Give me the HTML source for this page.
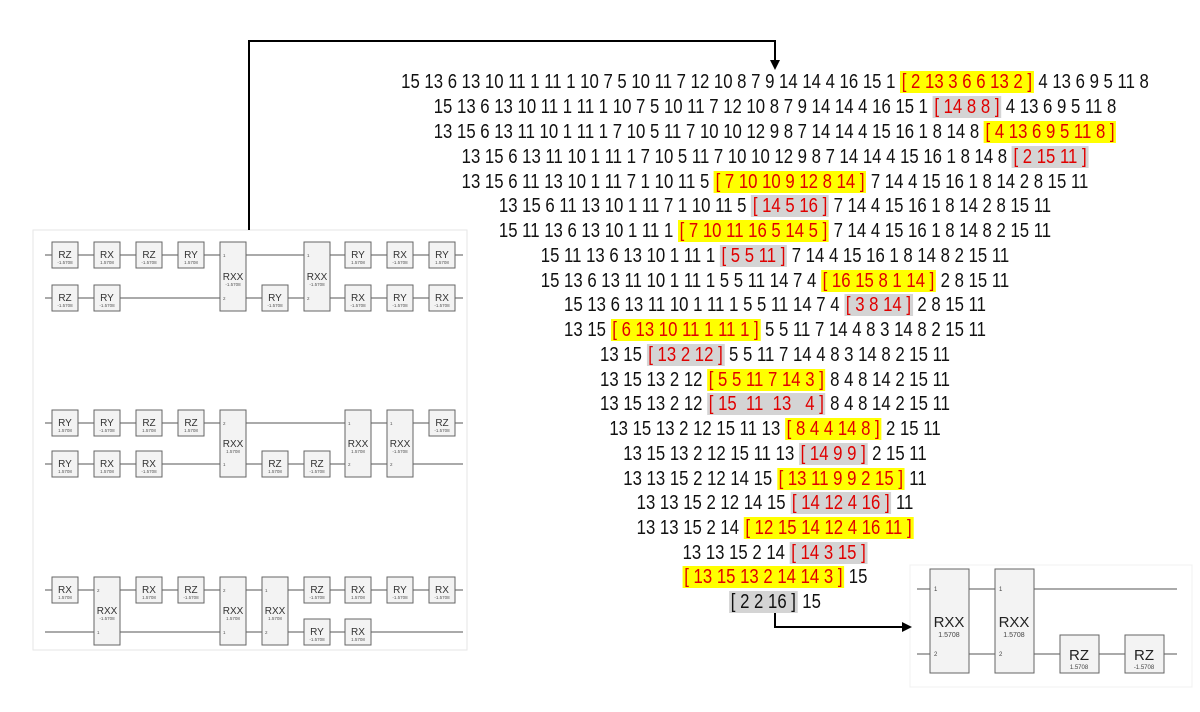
<!DOCTYPE html>
<html><head><meta charset="utf-8"><style>
body{margin:0;background:#fff;width:1200px;height:712px;overflow:hidden;position:relative;font-family:"Liberation Sans",sans-serif}
svg{position:absolute;left:0;top:0}
.ln{position:absolute;left:775px;white-space:pre;font-size:20px;line-height:22px;color:#111;transform:translateX(-50%) scaleX(0.837);transform-origin:center}
.y{background:#ffff00;color:#e00000;padding:0 2px}
.g{background:#d4d4d4;color:#e00000;padding:0 2px}
.k{background:#d4d4d4;color:#111;padding:0 2px}
.gl{font:10px "Liberation Sans",sans-serif;fill:#333;text-anchor:middle}
.gp{font:4.5px "Liberation Sans",sans-serif;fill:#555;text-anchor:middle}
.gn{font:4.5px "Liberation Sans",sans-serif;fill:#555}
</style></head><body>
<svg width="1200" height="712" viewBox="0 0 1200 712">
<defs><marker id="ah" markerWidth="10" markerHeight="10" refX="8" refY="5" orient="auto" markerUnits="userSpaceOnUse"><path d="M0,0 L10,5 L0,10 Z" fill="#000"/></marker></defs>
<rect x="33" y="230" width="434" height="420" fill="#fff" stroke="#e6e6e6"/>
<g stroke="#555" stroke-width="1">
<line x1="45" y1="255" x2="463" y2="255"/><line x1="45" y1="298" x2="463" y2="298"/>
<line x1="45" y1="423" x2="463" y2="423"/><line x1="45" y1="464" x2="463" y2="464"/>
<line x1="45" y1="590" x2="463" y2="590"/><line x1="45" y1="632" x2="463" y2="632"/>
</g>
<g fill="#f3f3f3" stroke="#666" stroke-width="1">
<rect x="52" y="242" width="26" height="26"/><rect x="94" y="242" width="26" height="26"/><rect x="136" y="242" width="26" height="26"/><rect x="178" y="242" width="26" height="26"/>
<rect x="220" y="242" width="26" height="69"/><rect x="304" y="242" width="26" height="69"/>
<rect x="345" y="242" width="26" height="26"/><rect x="387" y="242" width="26" height="26"/><rect x="429" y="242" width="26" height="26"/>
<rect x="52" y="285" width="26" height="26"/><rect x="94" y="285" width="26" height="26"/><rect x="262" y="285" width="26" height="26"/>
<rect x="345" y="285" width="26" height="26"/><rect x="387" y="285" width="26" height="26"/><rect x="429" y="285" width="26" height="26"/>
<rect x="52" y="410" width="26" height="26"/><rect x="94" y="410" width="26" height="26"/><rect x="136" y="410" width="26" height="26"/><rect x="178" y="410" width="26" height="26"/>
<rect x="220" y="410" width="26" height="67"/><rect x="345" y="410" width="26" height="67"/><rect x="387" y="410" width="26" height="67"/>
<rect x="429" y="410" width="26" height="26"/>
<rect x="52" y="451" width="26" height="26"/><rect x="94" y="451" width="26" height="26"/><rect x="136" y="451" width="26" height="26"/>
<rect x="262" y="451" width="26" height="26"/><rect x="304" y="451" width="26" height="26"/>
<rect x="52" y="577" width="26" height="26"/><rect x="94" y="577" width="26" height="68"/><rect x="136" y="577" width="26" height="26"/><rect x="178" y="577" width="26" height="26"/>
<rect x="220" y="577" width="26" height="68"/><rect x="262" y="577" width="26" height="68"/>
<rect x="304" y="577" width="26" height="26"/><rect x="345" y="577" width="26" height="26"/><rect x="387" y="577" width="26" height="26"/><rect x="429" y="577" width="26" height="26"/>
<rect x="304" y="619" width="26" height="26"/><rect x="345" y="619" width="26" height="26"/>
</g>
<g>
<text class="gl" x="65" y="258">RZ</text><text class="gp" x="65" y="264">-1.5708</text>
<text class="gl" x="107" y="258">RX</text><text class="gp" x="107" y="264">1.5708</text>
<text class="gl" x="149" y="258">RZ</text><text class="gp" x="149" y="264">-1.5708</text>
<text class="gl" x="191" y="258">RY</text><text class="gp" x="191" y="264">1.5708</text>
<text class="gl" x="233" y="280">RXX</text><text class="gp" x="233" y="286">-1.5708</text><text class="gn" x="223" y="257">1</text><text class="gn" x="223" y="300">2</text>
<text class="gl" x="317" y="280">RXX</text><text class="gp" x="317" y="286">-1.5708</text><text class="gn" x="307" y="257">1</text><text class="gn" x="307" y="300">2</text>
<text class="gl" x="358" y="258">RY</text><text class="gp" x="358" y="264">1.5708</text>
<text class="gl" x="400" y="258">RX</text><text class="gp" x="400" y="264">-1.5708</text>
<text class="gl" x="442" y="258">RY</text><text class="gp" x="442" y="264">1.5708</text>
<text class="gl" x="65" y="301">RZ</text><text class="gp" x="65" y="307">-1.5708</text>
<text class="gl" x="107" y="301">RY</text><text class="gp" x="107" y="307">-1.5708</text>
<text class="gl" x="275" y="301">RY</text><text class="gp" x="275" y="307">-1.5708</text>
<text class="gl" x="358" y="301">RX</text><text class="gp" x="358" y="307">-1.5708</text>
<text class="gl" x="400" y="301">RY</text><text class="gp" x="400" y="307">-1.5708</text>
<text class="gl" x="442" y="301">RX</text><text class="gp" x="442" y="307">-1.5708</text>
<text class="gl" x="65" y="426">RY</text><text class="gp" x="65" y="432">1.5708</text>
<text class="gl" x="107" y="426">RY</text><text class="gp" x="107" y="432">-1.5708</text>
<text class="gl" x="149" y="426">RZ</text><text class="gp" x="149" y="432">1.5708</text>
<text class="gl" x="191" y="426">RZ</text><text class="gp" x="191" y="432">1.5708</text>
<text class="gl" x="233" y="447">RXX</text><text class="gp" x="233" y="453">1.5708</text><text class="gn" x="223" y="425">2</text><text class="gn" x="223" y="466">1</text>
<text class="gl" x="358" y="447">RXX</text><text class="gp" x="358" y="453">1.5708</text><text class="gn" x="348" y="425">1</text><text class="gn" x="348" y="466">2</text>
<text class="gl" x="400" y="447">RXX</text><text class="gp" x="400" y="453">-1.5708</text><text class="gn" x="390" y="425">1</text><text class="gn" x="390" y="466">2</text>
<text class="gl" x="442" y="426">RZ</text><text class="gp" x="442" y="432">-1.5708</text>
<text class="gl" x="65" y="467">RY</text><text class="gp" x="65" y="473">1.5708</text>
<text class="gl" x="107" y="467">RX</text><text class="gp" x="107" y="473">1.5708</text>
<text class="gl" x="149" y="467">RX</text><text class="gp" x="149" y="473">-1.5708</text>
<text class="gl" x="275" y="467">RZ</text><text class="gp" x="275" y="473">1.5708</text>
<text class="gl" x="317" y="467">RZ</text><text class="gp" x="317" y="473">-1.5708</text>
<text class="gl" x="65" y="593">RX</text><text class="gp" x="65" y="599">1.5708</text>
<text class="gl" x="107" y="614">RXX</text><text class="gp" x="107" y="620">-1.5708</text><text class="gn" x="97" y="592">2</text><text class="gn" x="97" y="634">1</text>
<text class="gl" x="149" y="593">RX</text><text class="gp" x="149" y="599">1.5708</text>
<text class="gl" x="191" y="593">RZ</text><text class="gp" x="191" y="599">-1.5708</text>
<text class="gl" x="233" y="614">RXX</text><text class="gp" x="233" y="620">1.5708</text><text class="gn" x="223" y="592">2</text><text class="gn" x="223" y="634">1</text>
<text class="gl" x="275" y="614">RXX</text><text class="gp" x="275" y="620">1.5708</text><text class="gn" x="265" y="592">1</text><text class="gn" x="265" y="634">2</text>
<text class="gl" x="317" y="593">RZ</text><text class="gp" x="317" y="599">-1.5708</text>
<text class="gl" x="358" y="593">RX</text><text class="gp" x="358" y="599">1.5708</text>
<text class="gl" x="400" y="593">RY</text><text class="gp" x="400" y="599">-1.5708</text>
<text class="gl" x="442" y="593">RX</text><text class="gp" x="442" y="599">-1.5708</text>
<text class="gl" x="317" y="635">RY</text><text class="gp" x="317" y="641">-1.5708</text>
<text class="gl" x="358" y="635">RX</text><text class="gp" x="358" y="641">1.5708</text>
</g>
<rect x="910" y="565" width="282" height="122" fill="#fff" stroke="#f0f0f0"/>
<g stroke="#555"><line x1="917" y1="589" x2="1177" y2="589"/><line x1="917" y1="654" x2="1177" y2="654"/></g>
<g fill="#f3f3f3" stroke="#666">
<rect x="930" y="569" width="39" height="104"/><rect x="995" y="569" width="39" height="104"/>
<rect x="1060" y="635" width="39" height="38"/><rect x="1125" y="635" width="39" height="38"/>
</g>
<text x="949" y="627" style="font:15px 'Liberation Sans',sans-serif;fill:#222;text-anchor:middle">RXX</text>
<text x="949" y="637" style="font:7px 'Liberation Sans',sans-serif;fill:#444;text-anchor:middle">1.5708</text>
<text x="1014" y="627" style="font:15px 'Liberation Sans',sans-serif;fill:#222;text-anchor:middle">RXX</text>
<text x="1014" y="637" style="font:7px 'Liberation Sans',sans-serif;fill:#444;text-anchor:middle">1.5708</text>
<text x="1079" y="660" style="font:15px 'Liberation Sans',sans-serif;fill:#222;text-anchor:middle">RZ</text>
<text x="1079" y="669" style="font:6px 'Liberation Sans',sans-serif;fill:#444;text-anchor:middle">1.5708</text>
<text x="1144" y="660" style="font:15px 'Liberation Sans',sans-serif;fill:#222;text-anchor:middle">RZ</text>
<text x="1144" y="669" style="font:6px 'Liberation Sans',sans-serif;fill:#444;text-anchor:middle">-1.5708</text>
<g style="font:6px 'Liberation Sans',sans-serif;fill:#444">
<text x="934" y="591">1</text><text x="934" y="656">2</text><text x="999" y="591">1</text><text x="999" y="656">2</text></g>
<polyline points="249,230 249,41 775,41 775,68" fill="none" stroke="#000" stroke-width="2" marker-end="url(#ah)"/>
<polyline points="775,612 775,627 910,627" fill="none" stroke="#000" stroke-width="2" marker-end="url(#ah)"/>
</svg>
<div class="ln" style="top:71px">15 13 6 13 10 11 1 11 1 10 7 5 10 11 7 12 10 8 7 9 14 14 4 16 15 1 <span class="y">[ 2 13 3 6 6 13 2 ]</span> 4 13 6 9 5 11 8</div>
<div class="ln" style="top:96px">15 13 6 13 10 11 1 11 1 10 7 5 10 11 7 12 10 8 7 9 14 14 4 16 15 1 <span class="g">[ 14 8 8 ]</span> 4 13 6 9 5 11 8</div>
<div class="ln" style="top:121px">13 15 6 13 11 10 1 11 1 7 10 5 11 7 10 10 12 9 8 7 14 14 4 15 16 1 8 14 8 <span class="y">[ 4 13 6 9 5 11 8 ]</span></div>
<div class="ln" style="top:146px">13 15 6 13 11 10 1 11 1 7 10 5 11 7 10 10 12 9 8 7 14 14 4 15 16 1 8 14 8 <span class="g">[ 2 15 11 ]</span></div>
<div class="ln" style="top:171px">13 15 6 11 13 10 1 11 7 1 10 11 5 <span class="y">[ 7 10 10 9 12 8 14 ]</span> 7 14 4 15 16 1 8 14 2 8 15 11</div>
<div class="ln" style="top:195px">13 15 6 11 13 10 1 11 7 1 10 11 5 <span class="g">[ 14 5 16 ]</span> 7 14 4 15 16 1 8 14 2 8 15 11</div>
<div class="ln" style="top:220px">15 11 13 6 13 10 1 11 1 <span class="y">[ 7 10 11 16 5 14 5 ]</span> 7 14 4 15 16 1 8 14 8 2 15 11</div>
<div class="ln" style="top:245px">15 11 13 6 13 10 1 11 1 <span class="g">[ 5 5 11 ]</span> 7 14 4 15 16 1 8 14 8 2 15 11</div>
<div class="ln" style="top:270px">15 13 6 13 11 10 1 11 1 5 5 11 14 7 4 <span class="y">[ 16 15 8 1 14 ]</span> 2 8 15 11</div>
<div class="ln" style="top:294px">15 13 6 13 11 10 1 11 1 5 5 11 14 7 4 <span class="g">[ 3 8 14 ]</span> 2 8 15 11</div>
<div class="ln" style="top:319px">13 15 <span class="y">[ 6 13 10 11 1 11 1 ]</span> 5 5 11 7 14 4 8 3 14 8 2 15 11</div>
<div class="ln" style="top:344px">13 15 <span class="g">[ 13 2 12 ]</span> 5 5 11 7 14 4 8 3 14 8 2 15 11</div>
<div class="ln" style="top:369px">13 15 13 2 12 <span class="y">[ 5 5 11 7 14 3 ]</span> 8 4 8 14 2 15 11</div>
<div class="ln" style="top:393px">13 15 13 2 12 <span class="g">[ 15  11  13   4 ]</span> 8 4 8 14 2 15 11</div>
<div class="ln" style="top:418px">13 15 13 2 12 15 11 13 <span class="y">[ 8 4 4 14 8 ]</span> 2 15 11</div>
<div class="ln" style="top:443px">13 15 13 2 12 15 11 13 <span class="g">[ 14 9 9 ]</span> 2 15 11</div>
<div class="ln" style="top:468px">13 13 15 2 12 14 15 <span class="y">[ 13 11 9 9 2 15 ]</span> 11</div>
<div class="ln" style="top:492px">13 13 15 2 12 14 15 <span class="g">[ 14 12 4 16 ]</span> 11</div>
<div class="ln" style="top:517px">13 13 15 2 14 <span class="y">[ 12 15 14 12 4 16 11 ]</span></div>
<div class="ln" style="top:542px">13 13 15 2 14 <span class="g">[ 14 3 15 ]</span></div>
<div class="ln" style="top:566px"><span class="y">[ 13 15 13 2 14 14 3 ]</span> 15</div>
<div class="ln" style="top:591px"><span class="k">[ 2 2 16 ]</span> 15</div>
</body></html>
